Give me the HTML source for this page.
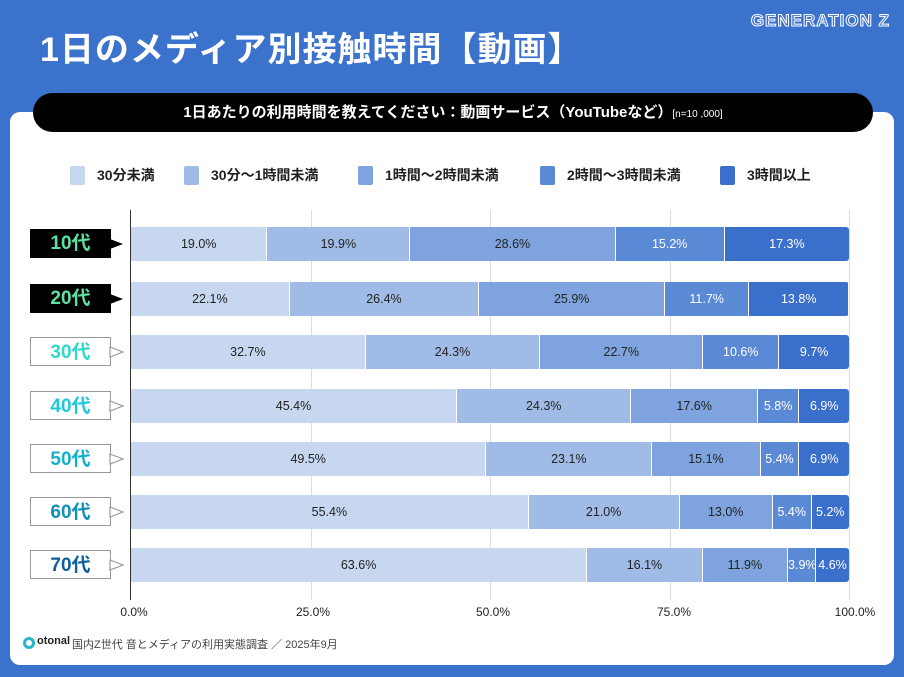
<!DOCTYPE html>
<html><head><meta charset="utf-8"><style>
*{margin:0;padding:0;box-sizing:border-box}
body{width:904px;height:677px;background:#3a72cc;position:relative;overflow:hidden;font-family:"Liberation Sans","Noto Sans CJK JP",sans-serif}
.abs{position:absolute}
.card{left:10px;top:112px;width:884px;height:553px;background:#fff;border-radius:10px}
.title{left:40px;top:22px;color:#fff;font-size:34px;font-weight:bold;letter-spacing:1px}
.gz{right:14px;top:11px;color:#3a72cc;font-size:17px;font-weight:bold;-webkit-text-stroke:1px #fff;letter-spacing:1px}
.pill{left:33px;top:93px;width:840px;height:39px;background:#000;border-radius:20px;color:#fff;font-size:15px;font-weight:bold;text-align:center;line-height:39px}
.pill small{font-size:10px;font-weight:normal}
.leg{top:165px;font-size:14px;font-weight:bold;color:#222;display:flex;align-items:center}
.leg i{display:inline-block;width:15px;height:19px;border-radius:2px;margin-right:12px}
.grid{width:1px;background:#ddd;top:210px;height:390px}
.bar{height:34px;display:flex;border-radius:0 3px 3px 0;overflow:hidden}
.bar div{height:34px;line-height:34px;text-align:center;font-size:12.5px;border-right:1px solid #fff}
.bar div:last-child{border-right:none}
.c1{background:#c7d7f0;color:#222}.c2{background:#a0bce6;color:#222}.c3{background:#7ea3de;color:#222}.c4{background:#5a89d6;color:#fff}.c5{background:#3a6fcc;color:#fff}
.lab{left:30px;width:81px;height:29px;text-align:center;font-size:19px;font-weight:bold;line-height:29px}
.tick{top:605px;font-size:12px;color:#222;transform:translateX(-50%)}
</style></head><body>
<div class="abs card"></div>
<div class="abs title">1日のメディア別接触時間【動画】</div>
<div class="abs gz">GENERATION Z</div>
<div class="abs pill">1日あたりの利用時間を教えてください：動画サービス（YouTubeなど）<small>[n=10 ,000]</small></div>
<div class="abs leg" style="left:70px"><i style="background:#c7d7f0"></i>30分未満</div>
<div class="abs leg" style="left:184px"><i style="background:#a0bce6"></i>30分～1時間未満</div>
<div class="abs leg" style="left:358px"><i style="background:#7ea3de"></i>1時間～2時間未満</div>
<div class="abs leg" style="left:540px"><i style="background:#5a89d6"></i>2時間～3時間未満</div>
<div class="abs leg" style="left:720px"><i style="background:#3a6fcc"></i>3時間以上</div>
<div class="abs grid" style="left:311px"></div>
<div class="abs grid" style="left:490px"></div>
<div class="abs grid" style="left:670px"></div>
<div class="abs grid" style="left:849px"></div>
<div class="abs" style="left:130px;top:210px;width:1px;height:390px;background:#333"></div>
<div id="rows"></div>
<div class="abs tick" style="left:134px">0.0%</div>
<div class="abs tick" style="left:313px">25.0%</div>
<div class="abs tick" style="left:493px">50.0%</div>
<div class="abs tick" style="left:674px">75.0%</div>
<div class="abs tick" style="left:855px">100.0%</div>
<div class="abs" style="left:23px;top:637px;width:12px;height:12px;border-radius:50%;border:3px solid #2bb5c8"></div>
<div class="abs" style="left:37px;top:635px;font-size:11px;font-weight:bold;color:#222">otonal</div>
<div class="abs" style="left:72px;top:636px;font-size:11px;color:#444">国内Z世代 音とメディアの利用実態調査 ／ 2025年9月</div>
<script>
var d=[["10代",[19.0,19.9,28.6,15.2,17.3],"#5fe0a0",1],["20代",[22.1,26.4,25.9,11.7,13.8],"#5fe0a0",1],["30代",[32.7,24.3,22.7,10.6,9.7],"#2fd8c8",0],["40代",[45.4,24.3,17.6,5.8,6.9],"#1ec8dc",0],["50代",[49.5,23.1,15.1,5.4,6.9],"#12b0cc",0],["60代",[55.4,21.0,13.0,5.4,5.2],"#1090b8",0],["70代",[63.6,16.1,11.9,3.9,4.6],"#0d5f9c",0]];
var tops=[227,282,335,389,442,495,548],h="";
d.forEach(function(r,i){var t=tops[i];
h+='<div class="abs lab" style="top:'+(t+2)+'px;color:'+r[2]+';background:'+(r[3]?'#000':'#fff')+';border:'+(r[3]?'none':'1.5px solid #999')+'">'+r[0]+'</div>';
h+='<svg class="abs" style="left:109px;top:'+(t+11)+'px" width="16" height="12"><polygon points="1,1 14,6 1,11" fill="'+(r[3]?'#000':'#fff')+'" stroke="'+(r[3]?'none':'#999')+'" stroke-width="1.2"/></svg>';
h+='<div class="abs bar" style="left:131px;top:'+t+'px;width:718px">';
r[1].forEach(function(v,j){h+='<div class="c'+(j+1)+'" style="width:'+(v/100*718)+'px">'+v.toFixed(1)+'%</div>'});
h+='</div>';});
document.getElementById('rows').innerHTML=h;
</script>
</body></html>
